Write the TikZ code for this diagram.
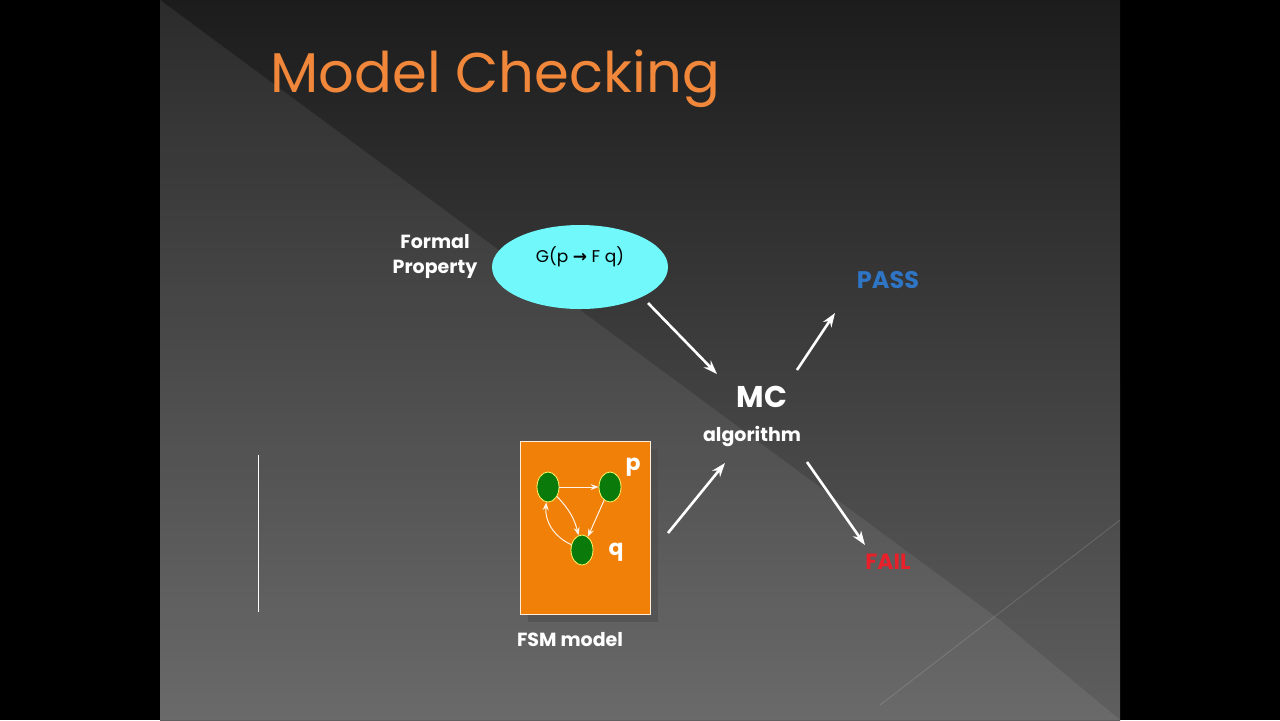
\documentclass[tikz,border=0pt]{standalone}
\usepackage{fontspec}
\setmainfont{Poppins}
\newfontfamily\djv{DejaVu Sans}
\usetikzlibrary{shapes.geometric,arrows.meta,shadows}
\definecolor{ttl}{HTML}{F0873A}
\definecolor{cyanf}{HTML}{70F8FA}
\definecolor{orng}{HTML}{F08008}
\definecolor{grn}{HTML}{0A7A0A}
\definecolor{passc}{HTML}{2E75C6}
\definecolor{failc}{HTML}{E8202A}
\begin{document}
\begin{tikzpicture}[x=0.5pt,y=-0.5pt,
  lbl/.style={text=white,font=\bfseries,align=center,inner sep=0},
  arr/.style={draw=white,line width=1.3pt,-{Stealth[length=7pt,width=5pt]}},
  st/.style={ellipse,minimum width=11pt,minimum height=15pt,inner sep=0,fill=grn,draw=yellow!60,line width=0.4pt},
  sm/.style={draw=white!90!orange,line width=0.5pt,-{Stealth[length=4pt,width=3pt]}}]
\useasboundingbox (0,0) rectangle (1280,720);
\fill[black] (0,0) rectangle (1280,720);
\shade[top color={rgb,255:red,28;green,28;blue,28},bottom color={rgb,255:red,95;green,95;blue,95}] (160,0) rectangle (1120,720);
\fill[white,opacity=0.07] (160,0) -- (1000,620) -- (1120,720) -- (160,720) -- cycle;
\draw[white,opacity=0.15,line width=0.4pt] (880,705) -- (1120,520);
\draw[white,line width=0.4pt] (258,455) -- (258,612);
\node[anchor=west,text=ttl,font=\fontsize{28}{30}\selectfont,inner sep=0] (title) at (270,79) {Model Checking};
\node[lbl,font=\bfseries\fontsize{9.5}{12.5}\selectfont] (fp) at (435,256) {Formal\\Property};
\node[ellipse,fill=cyanf,minimum width=88pt,minimum height=42pt,inner sep=0] (prop) at (580,267) {};
\node[font=\fontsize{8.5}{10}\selectfont,inner sep=0] (ptext) at (580,257) {G(p {\djv\bfseries →} F q)};
\node[lbl,font=\bfseries\fontsize{15}{18}\selectfont] (mc) at (762,397) {MC};
\node[lbl,font=\bfseries\fontsize{9.5}{12}\selectfont] (alg) at (752,436) {algorithm};
\node[lbl,text=passc,font=\bfseries\fontsize{12}{14}\selectfont] (pass) at (888,280) {PASS};
\node[lbl,text=failc,font=\bfseries\fontsize{11}{14}\selectfont] (fail) at (888,562) {FAIL};
\fill[black!70,opacity=0.6] (528,449) rectangle (658,622);
\node[draw=white!85!orange,fill=orng,line width=0.5pt,minimum width=65pt,minimum height=86.5pt,inner sep=0] (box) at (585,527.5) {};
\node[st] (s1) at (548,487) {};
\node[st] (s2) at (610,487) {};
\node[st] (s3) at (582,550) {};
\draw[sm] (s1) -- (s2);
\draw[sm] (s2) -- (s3);
\draw[sm] (s1) to[bend left=15] (s3);
\draw[sm] (s3) to[bend left=35] (s1);
\node[lbl,font=\bfseries\fontsize{11}{12}\selectfont] (p) at (633,467) {p};
\node[lbl,font=\bfseries\fontsize{11}{12}\selectfont] (q) at (616,552) {q};
\node[lbl,font=\bfseries\fontsize{9.5}{12}\selectfont] (fsm) at (570,640) {FSM model};
\coordinate (a1s) at (648,303); \coordinate (a1e) at (717,374);
\coordinate (a2s) at (797,370); \coordinate (a2e) at (835,313);
\coordinate (a3s) at (807,462); \coordinate (a3e) at (865,545);
\coordinate (a4s) at (668,533); \coordinate (a4e) at (725,463);
\draw[arr] (a1s) -- (a1e);
\draw[arr] (a2s) -- (a2e);
\draw[arr] (a3s) -- (a3e);
\draw[arr] (a4s) -- (a4e);
\end{tikzpicture}
\end{document}
